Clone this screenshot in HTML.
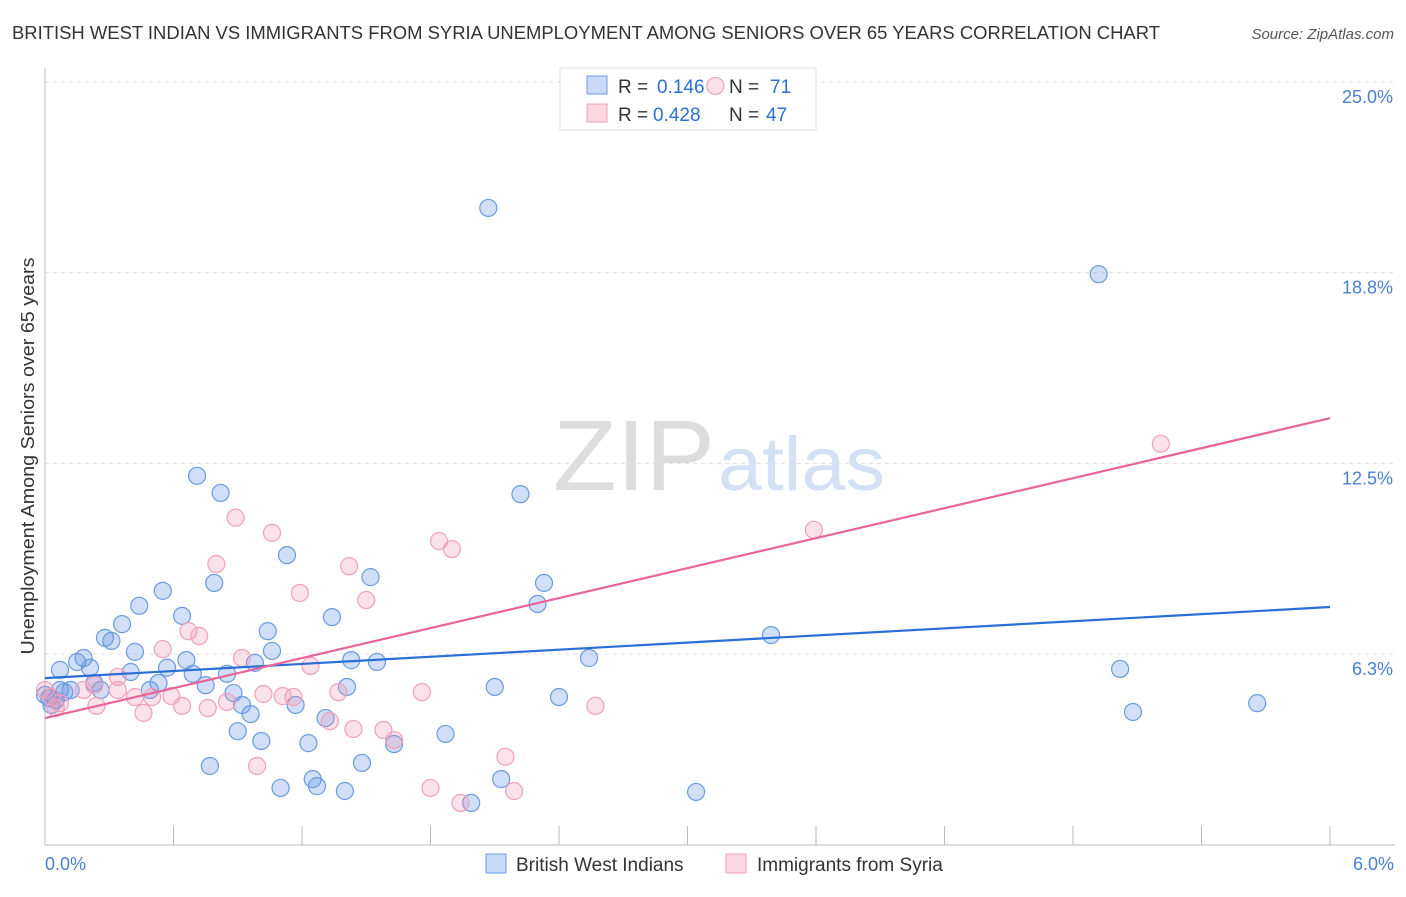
<!DOCTYPE html>
<html><head><meta charset="utf-8"><style>
body{margin:0;background:#fff;font-family:"Liberation Sans",sans-serif;}
svg text{font-family:"Liberation Sans",sans-serif;}
</style></head><body>
<svg id="chart" width="1406" height="892" viewBox="0 0 1406 892" xmlns="http://www.w3.org/2000/svg">
<text x="12" y="39" font-size="18" fill="#333" textLength="1148" lengthAdjust="spacingAndGlyphs">BRITISH WEST INDIAN VS IMMIGRANTS FROM SYRIA UNEMPLOYMENT AMONG SENIORS OVER 65 YEARS CORRELATION CHART</text>
<text x="1394" y="39" font-size="15" fill="#555" text-anchor="end" font-style="italic">Source: ZipAtlas.com</text>
<text x="553" y="490" font-size="100" fill="#ddd" font-family="Liberation Serif" textLength="162" lengthAdjust="spacingAndGlyphs">ZIP</text>
<text x="718" y="490" font-size="76" fill="#d4e0f3" textLength="167" lengthAdjust="spacingAndGlyphs">atlas</text>
<g id="grid"></g>
<g id="axes"></g>
<g>
<rect x="560" y="68" width="256" height="62" fill="#fff" stroke="#ddd"/>
<rect x="587" y="76" width="20" height="18" fill="rgba(100,150,230,0.35)" stroke="#6a9be0"/>
<rect x="587" y="104" width="20" height="18" fill="rgba(240,140,170,0.35)" stroke="#f0a0bb"/>
<text x="618" y="93" font-size="19" fill="#333">R =</text>
<text x="657" y="93" font-size="19" fill="#2a6fd6">0.146</text>
<text x="729" y="93" font-size="19" fill="#333">N =</text>
<text x="770" y="93" font-size="19" fill="#2a6fd6">71</text>
<text x="618" y="121" font-size="19" fill="#333">R =</text>
<text x="653" y="121" font-size="19" fill="#2a6fd6">0.428</text>
<text x="729" y="121" font-size="19" fill="#333">N =</text>
<text x="766" y="121" font-size="19" fill="#2a6fd6">47</text>
</g>
<g id="points"></g>
<g id="lines"></g>
<text transform="translate(34,456) rotate(-90)" font-size="18" fill="#333" text-anchor="middle" textLength="397" lengthAdjust="spacingAndGlyphs">Unemployment Among Seniors over 65 years</text>
<text x="45" y="870" font-size="18" fill="#4a7fd4">0.0%</text>
<text x="1394" y="870" font-size="18" fill="#4a7fd4" text-anchor="end">6.0%</text>
<g>
<rect x="486" y="854" width="20" height="19" fill="rgba(100,150,230,0.35)" stroke="#6a9be0"/>
<text x="516" y="871" font-size="19" fill="#333">British West Indians</text>
<rect x="726" y="854" width="20" height="19" fill="rgba(240,140,170,0.35)" stroke="#f0a0bb"/>
<text x="757" y="871" font-size="19" fill="#333">Immigrants from Syria</text>
</g>
</svg>
<script>
const yTicks=[25,18.75,12.5,6.25];
const yTickLabels=["25.0%","18.8%","12.5%","6.3%"];
const xTicks=[0,0.6,1.2,1.8,2.4,3.0,3.6,4.2,4.8,5.4,6.0];
const blueX=[2.07,4.92,0.71,0.82,2.22,1.13,1.52,2.33,0.79,0.55,0.44,2.30,0.64,1.34,0.36,1.04,0.28,0.31,3.39,1.06,0.42,2.54,0.18,1.43,1.55,0.98,0.15,0.66,0.07,0.57,0.21,5.02,0.69,0.85,0.40,0.53,0.23,0.75,1.41,2.10,0.12,0.09,0.49,0.88,0.26,2.40,5.66,0.02,0.92,1.17,5.08,0.96,1.31,0.90,1.87,1.01,1.23,1.63,1.48,0.77,1.25,2.13,1.27,1.10,1.40,3.04,1.99,0.05,0.07,0.00,0.03];
const blueY=[20.87,18.70,12.09,11.53,11.49,9.49,8.77,8.58,8.58,8.32,7.83,7.89,7.50,7.46,7.23,7.00,6.78,6.68,6.87,6.35,6.32,6.12,6.12,6.05,5.99,5.96,5.99,6.05,5.73,5.80,5.80,5.76,5.60,5.60,5.66,5.30,5.30,5.23,5.17,5.17,5.07,5.00,5.07,4.97,5.07,4.84,4.64,4.81,4.58,4.58,4.35,4.28,4.15,3.72,3.63,3.40,3.33,3.30,2.68,2.58,2.15,2.15,1.92,1.86,1.76,1.73,1.37,4.74,5.07,4.91,4.58];
const pinkX=[3.13,5.21,0.89,1.06,3.59,1.84,1.90,0.80,1.42,1.19,1.50,0.67,0.72,0.55,0.92,1.24,0.34,0.23,0.18,0.34,0.59,0.42,0.50,1.02,1.16,1.11,1.37,1.76,0.03,0.07,0.24,0.64,0.76,0.46,2.57,0.85,1.33,1.44,1.58,1.63,0.99,2.15,1.80,1.94,2.19,0.05,0.00];
const pinkY=[24.87,13.14,10.72,10.22,10.32,9.95,9.69,9.20,9.13,8.25,8.02,7.00,6.84,6.41,6.12,5.86,5.50,5.23,5.07,5.07,4.87,4.84,4.84,4.94,4.84,4.87,5.00,5.00,4.84,4.64,4.55,4.55,4.48,4.32,4.55,4.68,4.05,3.79,3.76,3.43,2.58,2.88,1.86,1.37,1.76,4.48,5.07];
const blueTrend=[5.46,7.79];
const pinkTrend=[4.15,13.98];
const NS="http://www.w3.org/2000/svg";
const X0=45,X1=1330,Y0=844.7,PXY=30.51;
const sx=v=>X0+(v/6)*(X1-X0);
const sy=v=>Y0-v*PXY;
function mk(tag,attrs,parent){const e=document.createElementNS(NS,tag);for(const k in attrs)e.setAttribute(k,attrs[k]);document.getElementById(parent).appendChild(e);return e;}
yTicks.forEach((t,i)=>{
 const l=mk('line',{x1:45,x2:1395,y1:sy(t),y2:sy(t),stroke:'#ddd','stroke-dasharray':'4,4'},'grid');
 
 
 const tx=mk('text',{x:1393,y:sy(t)+21,'font-size':18,fill:'#4a7fd4','text-anchor':'end'},'grid');
 tx.textContent=yTickLabels[i];
 
 
});
const ax=mk('line',{x1:45,x2:45,y1:68,y2:845,stroke:'#bbb'},'axes');


const bx=mk('line',{x1:45,x2:1395,y1:845,y2:845,stroke:'#bbb'},'axes');


xTicks.forEach(t=>{
 const l=mk('line',{x1:sx(t),x2:sx(t),y1:826,y2:845,stroke:'#bbb'},'axes');
 
 
});
blueX.forEach((v,i)=>{
 const c=mk('circle',{cx:sx(v),cy:sy(blueY[i]),r:8.5,fill:'rgba(100,150,230,0.3)',stroke:'#6a9be0','stroke-width':1.2},'points');
 
 
});
pinkX.forEach((v,i)=>{
 const c=mk('circle',{cx:sx(v),cy:sy(pinkY[i]),r:8.5,fill:'rgba(240,140,170,0.25)',stroke:'#f0a0bb','stroke-width':1.2},'points');
 
 
});
const bl=mk('line',{x1:sx(0),y1:sy(blueTrend[0]),x2:sx(6),y2:sy(blueTrend[1]),stroke:'#2a6fd6','stroke-width':2.2},'lines');


const pl=mk('line',{x1:sx(0),y1:sy(pinkTrend[0]),x2:sx(6),y2:sy(pinkTrend[1]),stroke:'#e8649a','stroke-width':2.2},'lines');


</script>
</body></html>
